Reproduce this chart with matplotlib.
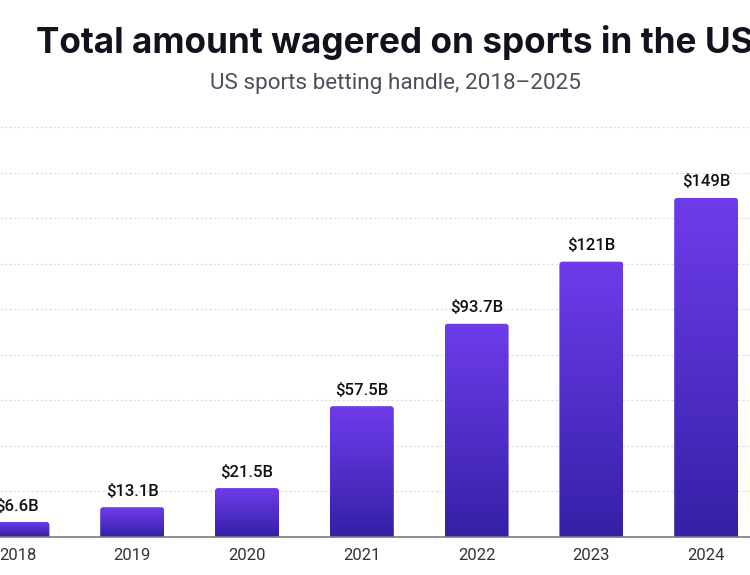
import numpy as np
import matplotlib
matplotlib.use("Agg")
import matplotlib.pyplot as plt
from matplotlib.patches import FancyBboxPatch
from matplotlib.colors import LinearSegmentedColormap

# data
years = ["2018", "2019", "2020", "2021", "2022", "2023", "2024"]
handle = [6.6, 13.1, 21.5, 57.5, 93.7, 121, 149]
value_labels = ["$6.6B", "$13.1B", "$21.5B", "$57.5B", "$93.7B", "$121B", "$149B"]
grid_vals = [20, 40, 60, 80, 100, 120, 140, 160, 180]

title = "Total amount wagered on sports in the US"
subtitle = "US sports betting handle, 2018\u20132025"

# layout in pixels (figure is 750x575)
W, H = 750, 575
px_x = 114.8      # pixels per category
first_x = 17.4    # pixel centre of the first bar
px_y = 2.2755     # pixels per $1B
base_y = 537
top_y = 110

fig = plt.figure(figsize=(W / 100, H / 100), dpi=100)
ax = fig.add_axes([0, (H - base_y) / H, 1, (base_y - top_y) / H])

x = np.arange(len(years))
bars = ax.bar(x, handle, width=64 / px_x, color="none", edgecolor="none")

# gradient fill for every bar, clipped to a rounded box
cmap = LinearSegmentedColormap.from_list("purp", ["#3520a6", "#6e3ceb"])
grad = np.linspace(0, 1, 256).reshape(-1, 1)
for b in bars:
    x0, w, h = b.get_x(), b.get_width(), b.get_height()
    box = FancyBboxPatch((x0, -4), w, h + 4,
                         boxstyle="round,pad=0,rounding_size=%f" % (3 / px_x),
                         mutation_aspect=px_x / px_y,
                         fc="none", ec="none")
    ax.add_patch(box)
    im = ax.imshow(grad, extent=[x0, x0 + w, 0, h], aspect="auto",
                   origin="lower", cmap=cmap, zorder=2)
    im.set_clip_path(box)

for xi, v, lab in zip(x, handle, value_labels):
    ax.annotate(lab, (xi, v), xytext=(0, 11.5), textcoords="offset points",
                ha="center", va="center", fontsize=12, fontweight="medium",
                family="Roboto", color="#111111")

ax.set_xlim(-first_x / px_x, (W - first_x) / px_x)
ax.set_ylim(0, (base_y - top_y) / px_y)

ax.set_yticks(grid_vals)
ax.grid(axis="y", color="#dddddd", lw=0.8, ls=(0, (2, 2)), zorder=0)
ax.set_axisbelow(True)
ax.tick_params(axis="y", left=False, labelleft=False)

ax.set_xticks(x, years)
ax.tick_params(axis="x", bottom=False, pad=4.5, labelsize=12, labelcolor="#333333")
for t in ax.get_xticklabels():
    t.set_family("Roboto")

for s in ax.spines.values():
    s.set_visible(False)
ax.axhline(0, color="#7a7a84", lw=1.2, zorder=4, clip_on=False)

fig.text(395 / W, 1 - 42 / H, title, ha="center", va="center",
         fontsize=25.3, fontweight="bold", family="Inter", color="#12121f")
fig.text(395 / W, 1 - 84 / H, subtitle, ha="center", va="center",
         fontsize=16.2, family="Roboto", color="#4d4d5c")

fig.savefig("out.png", dpi=100)
